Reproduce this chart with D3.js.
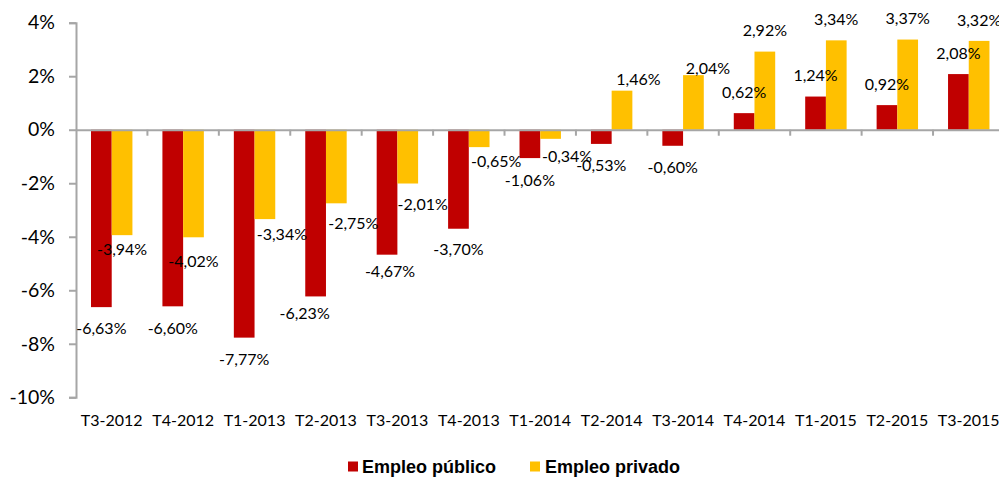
<!DOCTYPE html>
<html>
<head>
<meta charset="utf-8">
<script src="https://cdn.jsdelivr.net/npm/d3@7/dist/d3.min.js"></script>
<style>
  html, body { margin: 0; padding: 0; background: #fff; }
  svg { display: block; }
</style>
</head>
<body>
<svg id="chart" width="999" height="477"></svg>
<script>
// ---- data ----
const categories = ["T3-2012","T4-2012","T1-2013","T2-2013","T3-2013","T4-2013","T1-2014","T2-2014","T3-2014","T4-2014","T1-2015","T2-2015","T3-2015"];
const seriesNames = ["Empleo público", "Empleo privado"];
const empleoPublico = [-6.63, -6.60, -7.77, -6.23, -4.67, -3.70, -1.06, -0.53, -0.60, 0.62, 1.24, 0.92, 2.08];
const empleoPrivado = [-3.94, -4.02, -3.34, -2.75, -2.01, -0.65, -0.34, 1.46, 2.04, 2.92, 3.34, 3.37, 3.32];
const yTicks = [-10, -8, -6, -4, -2, 0, 2, 4];

// ---- layout / style ----
const colors = ["#C00000", "#FFC000"];
const labelNudgePublico = [[0,0],[0,1],[0,1],[-11,-4],[3,-4],[0,0],[0,1],[0,0],[0,0],[0,0],[0,0],[0,0],[0,0]];
const labelNudgePrivado = [[0,-7],[0,3],[17,-6],[17,-1],[15,0],[17,-7],[16.5,-4],[16.5,10],[14.5,14],[0,0],[0,0],[0,0],[0,0]];

const svg = d3.select("#chart");
const left = 76, step = 71.42;
const x0 = d3.scaleBand().domain(categories).range([left, left + step * categories.length]).paddingInner(0.42).paddingOuter(0.21);
const x1 = d3.scaleBand().domain(seriesNames).range([0, x0.bandwidth()]);
const y = d3.scaleLinear().domain([-10, 4]).range([397.3, 22.7]);

const fmt = v => d3.format(".2f")(v).replace(".", ",").replace("−", "-") + "%";

const series = [empleoPublico, empleoPrivado];
const nudges = [labelNudgePublico, labelNudgePrivado];

// bars
series.forEach((vals, si) => {
  svg.append("g").selectAll("rect")
    .data(vals)
    .join("rect")
    .attr("x", (d, i) => x0(categories[i]) + x1(seriesNames[si]))
    .attr("width", x1.bandwidth())
    .attr("y", d => y(Math.max(0, d)))
    .attr("height", d => Math.abs(y(d) - y(0)))
    .attr("fill", colors[si]);
});

// y axis
const yAxis = d3.axisLeft(y).tickValues(yTicks).tickSize(7).tickPadding(14).tickFormat(d => d + "%");
const gy = svg.append("g").attr("transform", `translate(${left},0)`).call(yAxis);
gy.select(".domain").attr("stroke", "#a6a6a6").attr("stroke-width", 2);
gy.selectAll(".tick line").attr("stroke", "#a6a6a6").attr("stroke-width", 2);
gy.selectAll(".tick text").attr("font-family", "Lato, sans-serif").attr("font-size", "19.5px").attr("fill", "#000");

// x axis at zero
const xAxis = d3.axisBottom(x0).tickSize(0).tickFormat("");
const gx = svg.append("g").attr("transform", `translate(0,${y(0)})`).call(xAxis);
gx.select(".domain").attr("stroke", "#a6a6a6").attr("stroke-width", 2);
// boundary ticks
const boundaries = categories.map((c, i) => x0(c) - x0.step() * x0.paddingInner() / 2).slice(1)
  .concat([x0(categories[categories.length - 1]) + x0.bandwidth() + x0.step() * x0.paddingInner() / 2]);
gx.selectAll("line.bt").data(boundaries).join("line").attr("class", "bt")
  .attr("x1", d => d).attr("x2", d => d).attr("y1", 0).attr("y2", 6)
  .attr("stroke", "#a6a6a6").attr("stroke-width", 2);

// x category labels
svg.append("g").selectAll("text")
  .data(categories)
  .join("text")
  .attr("x", d => x0(d) + x0.bandwidth() / 2)
  .attr("y", 425.5)
  .attr("text-anchor", "middle")
  .attr("font-family", "Lato, sans-serif")
  .attr("font-size", "16px")
  .attr("fill", "#000")
  .text(d => d);

// data labels
series.forEach((vals, si) => {
  svg.append("g").selectAll("text")
    .data(vals)
    .join("text")
    .attr("x", (d, i) => x0(categories[i]) + x1(seriesNames[si]) + x1.bandwidth() / 2 + nudges[si][i][0])
    .attr("y", (d, i) => y(d) + (d < 0 ? 21 : -21) + nudges[si][i][1])
    .attr("dy", "0.36em")
    .attr("text-anchor", "middle")
    .attr("font-family", "Lato, sans-serif")
    .attr("font-size", "16px")
    .attr("fill", "#000")
    .text(d => fmt(d));
});

// legend
const legendItems = [{x: 348, tx: 362}, {x: 530, tx: 545}];
const lg = svg.append("g");
seriesNames.forEach((name, i) => {
  lg.append("rect").attr("x", legendItems[i].x).attr("y", 461.5).attr("width", 10).attr("height", 10).attr("fill", colors[i]);
  lg.append("text").attr("x", legendItems[i].tx).attr("y", 472.5)
    .attr("font-family", "'Liberation Sans', Arial, sans-serif").attr("font-weight", "bold")
    .attr("font-size", "18px").attr("fill", "#000").text(name);
});
</script>
</body>
</html>
